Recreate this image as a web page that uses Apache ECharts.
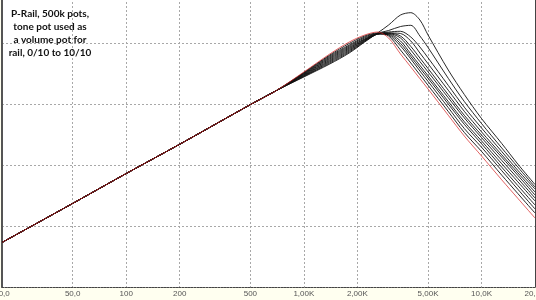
<!DOCTYPE html>
<html><head><meta charset="utf-8">
<script src="https://cdn.jsdelivr.net/npm/echarts@6/dist/echarts.min.js"></script>
<style>html,body{margin:0;padding:0;background:#fffff0}#c{width:536px;height:300px}</style>
</head><body><div id="c"></div>
<script>
// shared rising part (Hz, dB)
const baseFreq = [20, 50, 100, 200, 500, 700];
const baseLevel = [-32.7, -26.3, -21.4, -16.6, -10.1, -7.8];
// per-setting part (Hz)
const freq = [1000, 1400, 1800, 2200, 2600, 3000, 3500, 4000, 4500, 5000, 6500, 8000, 10000, 13000, 16000, 20000];
const curve0 = [-4.75, -1.80, 0.16, 1.31, 1.80, 0.82, -1.80, -3.93, -5.85, -7.54, -11.85, -15.25, -18.52, -22.44, -25.46, -28.69];
const curve1 = [-4.84, -1.97, -0.08, 1.15, 1.64, 1.15, -1.15, -3.28, -5.21, -6.93, -11.23, -14.66, -17.77, -21.67, -24.67, -27.87];
const curve2 = [-4.92, -2.13, -0.33, 0.98, 1.56, 1.31, -0.49, -2.62, -4.59, -6.30, -10.59, -14.02, -17.08, -20.93, -23.97, -27.21];
const curve3 = [-5.00, -2.30, -0.49, 0.82, 1.48, 1.39, -0.08, -2.21, -4.10, -5.77, -10.00, -13.33, -16.51, -20.36, -23.36, -26.56];
const curve4 = [-5.08, -2.46, -0.66, 0.66, 1.48, 1.48, 0.33, -1.80, -3.67, -5.36, -9.59, -12.90, -16.05, -19.80, -22.75, -25.90];
const curve5 = [-5.16, -2.62, -0.82, 0.57, 1.48, 1.56, 0.82, -1.15, -3.05, -4.74, -8.97, -12.28, -15.51, -19.25, -22.21, -25.41];
const curve6 = [-5.25, -2.79, -0.98, 0.49, 1.48, 1.64, 1.15, -0.57, -2.46, -4.18, -8.48, -11.85, -15.08, -18.72, -21.69, -24.92];
const curve7 = [-5.33, -2.95, -1.15, 0.41, 1.48, 1.64, 1.56, 0.33, -1.64, -3.39, -7.75, -11.20, -14.57, -18.33, -21.28, -24.43];
const curve8 = [-5.41, -3.11, -1.31, 0.33, 1.48, 1.80, 1.92, 0.98, -0.66, -2.43, -6.95, -10.52, -13.93, -17.79, -20.87, -23.93];
const curve9 = [-5.49, -3.28, -1.48, 0.25, 1.56, 2.05, 2.70, 2.90, 1.15, -0.74, -5.79, -9.59, -13.20, -17.21, -20.33, -23.61];
const curve10 = [-5.57, -3.44, -1.64, 0.16, 1.64, 2.95, 4.59, 4.97, 3.77, 1.31, -4.43, -8.44, -12.38, -16.48, -19.84, -23.20];
const tickValues = [20, 50, 100, 200, 500, 1000, 2000, 5000, 10000, 20000];
const tickLabels = ['20,0', '50,0', '100', '200', '500', '1,00K', '2,00K', '5,00K', '10,0K', '20,0K'];
const noteText = ['P-Rail, 500k pots,', 'tone pot used as', 'a volume pot for', 'rail, 0/10 to 10/10'];

const blackCurves = [curve1, curve2, curve3, curve4, curve5, curve6, curve7, curve8, curve9, curve10];
function build(c) {
  return baseFreq.map((f, i) => [f, baseLevel[i]]).concat(freq.map((f, i) => [f, c[i]]));
}
const series = blackCurves.map((c, k) => ({
  type: 'line', name: 'b' + k, data: build(c), showSymbol: false, smooth: 0.3,
  lineStyle: { color: '#111', width: 0.9 }, silent: true, z: 2
}));
series.push({
  type: 'line', name: 'red', data: build(curve0), showSymbol: false, smooth: 0.3,
  lineStyle: { color: '#d42020', width: 1, opacity: 0.7 }, silent: true, z: 3
});

const chart = echarts.init(document.getElementById('c'), null, { renderer: 'canvas' });
chart.setOption({
  animation: false,
  backgroundColor: '#fffff0',
  grid: { left: 2, right: 1, top: -18, bottom: 13, containLabel: false, outerBoundsMode: 'none',
          show: true, backgroundColor: '#ffffff', borderWidth: 0 },
  xAxis: {
    type: 'log', logBase: 10, min: 20, max: 20000,
    axisLine: { show: true, onZero: false, lineStyle: { color: '#444', width: 1, type: [2, 1] } },
    axisTick: { show: false, customValues: tickValues },
    axisLabel: { customValues: tickValues, margin: 3, fontSize: 8, color: '#555', fontFamily: 'Liberation Sans',
      formatter: v => { const i = tickValues.indexOf(Math.round(v)); return i >= 0 ? tickLabels[i] : ''; } },
    splitLine: { show: true, lineStyle: { color: '#a8a8a8', width: 1, type: [2, 2] } }
  },
  yAxis: [{
    type: 'value', min: -40, max: 10, interval: 10,
    axisLine: { show: true, onZero: false, lineStyle: { color: '#555', width: 2 } },
    axisTick: { show: false }, axisLabel: { show: false },
    splitLine: { show: true, lineStyle: { color: '#a8a8a8', width: 1, type: [2, 2] } }
  }, {
    type: 'value', min: -40, max: 10, interval: 10, position: 'right',
    axisLine: { show: true, onZero: false, lineStyle: { color: '#444', width: 1 } },
    axisTick: { show: false }, axisLabel: { show: false }, splitLine: { show: false }
  }],
  graphic: [{
    type: 'text', x: 50, y: 7, z: 10,
    style: { text: noteText.join('\n'), align: 'center', verticalAlign: 'top',
      fontSize: 10, fontWeight: 'bold', fontFamily: 'Lato', lineHeight: 13, fill: '#111' }
  }],
  series: series
});
</script></body></html>
